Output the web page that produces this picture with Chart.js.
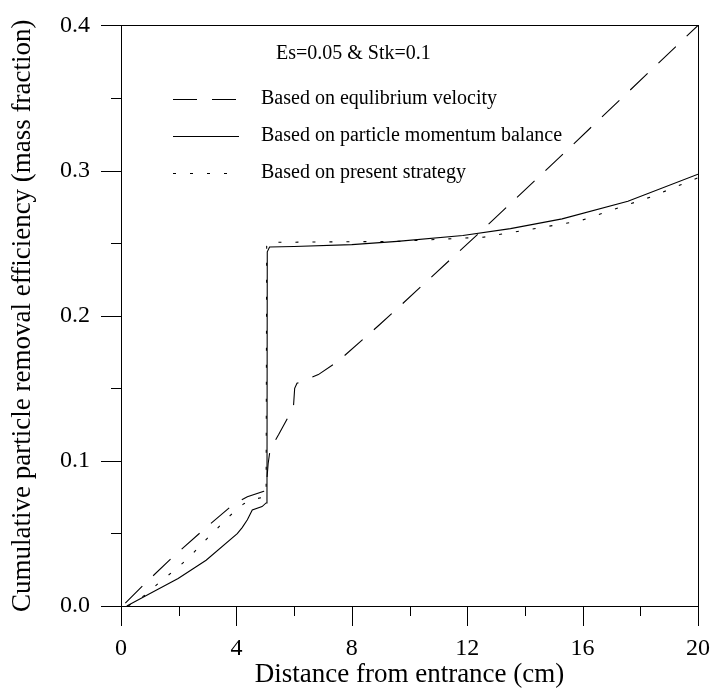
<!DOCTYPE html>
<html>
<head>
<meta charset="utf-8">
<script src="https://cdn.jsdelivr.net/npm/chart.js@4.4.1/dist/chart.umd.min.js"></script>
<style>
  html, body { margin: 0; padding: 0; background: #fff; }
  #wrap { width: 718px; height: 688px; }
</style>
</head>
<body>
<div id="wrap"><canvas id="effChart" width="718" height="688"></canvas></div>
<script>
// series: x = distance (cm), y = mass fraction
const equilX = [0.15, 0.83, 1.8, 2.83, 3.86, 4.38, 4.95, 5.04, 5.06, 5.1, 5.17, 5.46, 5.87, 5.98, 6.02, 6.1, 6.3, 6.84, 7.52, 8.95, 9.58, 12.44, 15.07, 20];
const equilY = [0.002, 0.0155, 0.0338, 0.052, 0.0695, 0.0753, 0.079, 0.081, 0.088, 0.098, 0.108, 0.118, 0.133, 0.138, 0.15, 0.1535, 0.155, 0.1594, 0.1685, 0.1936, 0.205, 0.2575, 0.3066, 0.4];

const momentumX = [0.2, 1.12, 1.98, 2.95, 4.03, 4.2, 4.38, 4.55, 4.89, 5.03, 5.06, 5.07, 5.15, 6, 8, 9.58, 11.85, 13.5, 15.29, 17.57, 20];
const momentumY = [0, 0.0098, 0.019, 0.0315, 0.0498, 0.054, 0.0594, 0.0662, 0.0685, 0.071, 0.0726, 0.244, 0.2473, 0.2477, 0.249, 0.2512, 0.2553, 0.26, 0.2667, 0.2788, 0.2975];

const presentX = [0.25, 0.83, 1.35, 1.86, 2.38, 2.83, 3.29, 3.78, 4.26, 4.67, 4.95, 5.03, 5.05, 5.1, 7, 9.58, 12.56, 15.87, 18.39, 20];
const presentY = [0, 0.0075, 0.0166, 0.0247, 0.0338, 0.0434, 0.0525, 0.0623, 0.0705, 0.0738, 0.075, 0.077, 0.248, 0.2505, 0.2508, 0.2512, 0.2541, 0.2651, 0.282, 0.295];

const seriesLabels = [
  'Based on equlibrium velocity',
  'Based on particle momentum balance',
  'Based on present strategy'
];
const noteText = 'Es=0.05 & Stk=0.1';

const xMajor = [0, 4, 8, 12, 16, 20];
const yMajor = [0.0, 0.1, 0.2, 0.3, 0.4];

const SERIF = '"Liberation Serif", "DejaVu Serif", serif';

function toPoints(xs, ys) {
  return xs.map((x, i) => ({ x: x, y: ys[i] }));
}

// box, major/minor ticks and the legend block
const framePlugin = {
  id: 'frame',
  afterDraw(chart) {
    const ctx = chart.ctx;
    const area = chart.chartArea;
    const xs = chart.scales.x;
    const ys = chart.scales.y;
    ctx.save();
    ctx.strokeStyle = '#000';
    ctx.lineWidth = 1;
    ctx.strokeRect(Math.round(area.left) + 0.5, Math.round(area.top) + 0.5,
      Math.round(area.right - area.left), Math.round(area.bottom - area.top));

    ctx.beginPath();
    xs.ticks.forEach(t => {
      const px = Math.round(xs.getPixelForValue(t.value)) + 0.5;
      const len = xMajor.includes(t.value) ? 20 : 10;
      ctx.moveTo(px, area.bottom);
      ctx.lineTo(px, area.bottom + len);
    });
    ys.ticks.forEach(t => {
      const py = Math.round(ys.getPixelForValue(t.value)) + 0.5;
      const major = yMajor.some(v => Math.abs(v - t.value) < 1e-6);
      const len = major ? 20 : 10;
      ctx.moveTo(area.left, py);
      ctx.lineTo(area.left - len, py);
    });
    ctx.stroke();

    // legend
    ctx.fillStyle = '#000';
    ctx.font = '20px ' + SERIF;
    ctx.textBaseline = 'middle';
    ctx.textAlign = 'left';
    ctx.fillText(noteText, 276, 54);
    const rows = [99, 136, 173];
    chart.data.datasets.forEach((ds, i) => {
      ctx.beginPath();
      ctx.setLineDash(ds.borderDash || []);
      ctx.lineWidth = ds.borderWidth;
      ctx.moveTo(173, rows[i] + 0.5);
      ctx.lineTo(239, rows[i] + 0.5);
      ctx.stroke();
      ctx.setLineDash([]);
      ctx.fillText(seriesLabels[i], 261, rows[i]);
    });
    ctx.restore();
  }
};

new Chart(document.getElementById('effChart'), {
  type: 'scatter',
  data: {
    datasets: [
      {
        label: seriesLabels[0],
        data: toPoints(equilX, equilY),
        showLine: true,
        borderColor: '#000',
        borderWidth: 1.1,
        borderDash: [24, 15],
        pointRadius: 0,
        tension: 0
      },
      {
        label: seriesLabels[1],
        data: toPoints(momentumX, momentumY),
        showLine: true,
        borderColor: '#000',
        borderWidth: 1.1,
        pointRadius: 0,
        tension: 0
      },
      {
        label: seriesLabels[2],
        data: toPoints(presentX, presentY),
        showLine: true,
        borderColor: '#000',
        borderWidth: 1.1,
        borderDash: [3, 14],
        pointRadius: 0,
        tension: 0
      }
    ]
  },
  options: {
    responsive: false,
    animation: false,
    devicePixelRatio: 1,
    layout: { padding: { top: 23, right: 14, left: 0, bottom: 0 } },
    plugins: {
      legend: { display: false },
      tooltip: { enabled: false }
    },
    scales: {
      x: {
        type: 'linear',
        min: 0,
        max: 20,
        afterFit: scale => { scale.height = 82; },
        grid: { drawOnChartArea: false, tickLength: 20, tickColor: 'rgba(0,0,0,0)' },
        border: { display: false },
        ticks: {
          stepSize: 2,
          padding: 8,
          color: '#000',
          maxRotation: 0,
          autoSkip: false,
          font: { family: SERIF, size: 24 },
          callback: v => (xMajor.includes(v) ? String(v) : '')
        },
        title: {
          display: true,
          text: 'Distance from entrance (cm)',
          color: '#000',
          font: { family: SERIF, size: 27 },
          padding: { top: 0, bottom: -3 }
        }
      },
      y: {
        type: 'linear',
        min: 0,
        max: 0.4,
        afterFit: scale => { scale.width = 121; },
        grid: { drawOnChartArea: false, tickLength: 20, tickColor: 'rgba(0,0,0,0)' },
        border: { display: false },
        ticks: {
          stepSize: 0.05,
          padding: 11,
          color: '#000',
          autoSkip: false,
          font: { family: SERIF, size: 24 },
          callback: v => {
            const major = yMajor.some(m => Math.abs(m - v) < 1e-6);
            return major ? v.toFixed(1) : '';
          }
        },
        title: {
          display: true,
          text: 'Cumulative particle removal efficiency (mass fraction)',
          color: '#000',
          font: { family: SERIF, size: 27 },
          padding: { top: 7, bottom: 0 }
        }
      }
    }
  },
  plugins: [framePlugin]
});
</script>
</body>
</html>
